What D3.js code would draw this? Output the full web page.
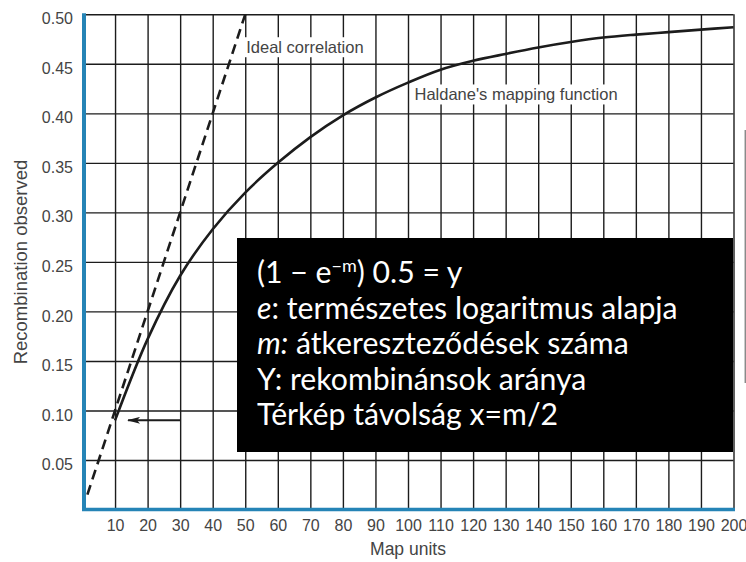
<!DOCTYPE html>
<html>
<head>
<meta charset="utf-8">
<script src="https://cdn.jsdelivr.net/npm/d3@7"></script>
<style>
  body { margin: 0; background: #fff; }
  svg { display: block; }
</style>
</head>
<body>
<script>
// data
var mapUnits = [10, 20, 30, 40, 50, 60, 70, 80, 90, 100,
  110, 120, 130, 140, 150, 160, 170, 180, 190, 200];
var recombination = [0.09, 0.172, 0.236, 0.283, 0.32, 0.35, 0.376, 0.398, 0.416, 0.431,
  0.444, 0.453, 0.46, 0.4665, 0.472, 0.4765, 0.4795, 0.482, 0.4845, 0.487];
var idealX = [1.5, 50];
var idealY = [0.015, 0.5];
var arrowX = [30, 14];
var arrowY = [0.09, 0.09];
var xTicks = [10, 20, 30, 40, 50, 60, 70, 80, 90, 100,
  110, 120, 130, 140, 150, 160, 170, 180, 190, 200];
var yTicks = [0.05, 0.10, 0.15, 0.20, 0.25, 0.30, 0.35, 0.40, 0.45, 0.50];
var boxLines = [
  [{t: "(1 − e"}, {t: "−m", sup: true}, {t: ") 0.5 = y"}],
  [{t: "e", it: true}, {t: ": természetes logaritmus alapja"}],
  [{t: "m:", it: true}, {t: " átkereszteződések száma"}],
  [{t: "Y: rekombinánsok aránya"}],
  [{t: "Térkép távolság x=m/2"}]
];

var width = 746, height = 562;
var blue = "#2584b6";
var ink = "#1c1c1c";
var labelGrey = "#444";

var svg = d3.select("body").append("svg")
  .attr("width", width)
  .attr("height", height);

var x = d3.scaleLinear().domain([0, 200]).range([82.5, 733.5]);
var y = d3.scaleLinear().domain([0, 0.5]).range([509.5, 14.3]);

// grid via axes
var xAxis = svg.append("g")
  .attr("transform", "translate(0," + y(0) + ")")
  .call(d3.axisBottom(x)
    .tickValues(xTicks)
    .tickSizeInner(-(y(0) - y(0.5)))
    .tickSizeOuter(0)
    .tickPadding(10.6)
    .tickFormat(d3.format("d")));

var yAxis = svg.append("g")
  .attr("transform", "translate(" + x(0) + ",0)")
  .call(d3.axisLeft(y)
    .tickValues(yTicks)
    .tickSizeInner(-(x(200) - x(0)))
    .tickSizeOuter(0)
    .tickPadding(9.5)
    .tickFormat(d3.format(".2f")));

[xAxis, yAxis].forEach(function(g) {
  g.select(".domain").remove();
  g.selectAll(".tick line")
    .attr("stroke", ink)
    .attr("stroke-width", 1.4);
  g.selectAll(".tick text")
    .attr("fill", labelGrey)
    .style("font-family", "'Liberation Sans', Arial, sans-serif")
    .style("font-size", "16px");
});
yAxis.selectAll(".tick text").attr("dy", "0.6em");

// blue axis lines
svg.append("line")
  .attr("x1", x(0) + 1.5).attr("x2", x(0) + 1.5)
  .attr("y1", y(0.5) - 1).attr("y2", y(0) + 1.5)
  .attr("stroke", blue).attr("stroke-width", 4);
svg.append("line")
  .attr("x1", x(0) - 0.5).attr("x2", x(200) + 1.5)
  .attr("y1", y(0)).attr("y2", y(0))
  .attr("stroke", blue).attr("stroke-width", 3.5);

// labels with white background
function label(text, px, py) {
  var g = svg.append("g");
  var t = g.append("text")
    .attr("x", px).attr("y", py)
    .attr("fill", labelGrey)
    .style("font-family", "'Liberation Sans', Arial, sans-serif")
    .style("font-size", "16.5px")
    .text(text);
  var b = t.node().getBBox();
  g.insert("rect", "text")
    .attr("x", b.x - 2).attr("y", b.y - 1)
    .attr("width", b.width + 4).attr("height", b.height + 2)
    .attr("fill", "#fff");
}
label("Ideal correlation", x(50.3), y(0.4607));
label("Haldane's mapping function", x(102), y(0.413));

// curves
var line = d3.line()
  .x(function(d) { return x(d[0]); })
  .y(function(d) { return y(d[1]); });

svg.append("path")
  .datum(d3.zip(idealX, idealY))
  .attr("d", line)
  .attr("fill", "none")
  .attr("stroke", ink)
  .attr("stroke-width", 2.6)
  .attr("stroke-dasharray", "10,6");

svg.append("path")
  .datum(d3.zip(mapUnits, recombination))
  .attr("d", line.curve(d3.curveCatmullRom))
  .attr("fill", "none")
  .attr("stroke", ink)
  .attr("stroke-width", 2.6);

// arrow
svg.append("defs").append("marker")
  .attr("id", "head")
  .attr("viewBox", "0 0 13 7")
  .attr("refX", 12).attr("refY", 3.5)
  .attr("markerWidth", 13).attr("markerHeight", 7)
  .attr("markerUnits", "userSpaceOnUse")
  .attr("orient", "auto")
  .append("path")
  .attr("d", "M0,0 L13,3.5 L0,7 L3,3.5 Z")
  .attr("fill", ink);

svg.append("path")
  .datum(d3.zip(arrowX, arrowY))
  .attr("d", line.curve(d3.curveLinear))
  .attr("fill", "none")
  .attr("stroke", ink)
  .attr("stroke-width", 2)
  .attr("marker-end", "url(#head)");

// axis titles
svg.append("text")
  .attr("x", 408).attr("y", 555)
  .attr("text-anchor", "middle")
  .attr("fill", labelGrey)
  .style("font-family", "'Liberation Sans', Arial, sans-serif")
  .style("font-size", "17.5px")
  .text("Map units");

svg.append("text")
  .attr("transform", "translate(27," + 262 + ") rotate(-90)")
  .attr("text-anchor", "middle")
  .attr("fill", labelGrey)
  .style("font-family", "'Liberation Sans', Arial, sans-serif")
  .style("font-size", "18.5px")
  .text("Recombination observed");

// stray slide edge on the right
svg.append("line")
  .attr("x1", 745.3).attr("x2", 745.3)
  .attr("y1", 130).attr("y2", 383)
  .attr("stroke", "#8a8a8a").attr("stroke-width", 1.5);

// black text box
var box = svg.append("g");
box.append("rect")
  .attr("x", 237).attr("y", 238)
  .attr("width", 496).attr("height", 214)
  .attr("fill", "#000");

var txt = box.selectAll("text")
  .data(boxLines)
  .enter()
  .append("text")
  .attr("x", 257)
  .attr("y", function(d, i) { return 283 + i * 35.6; })
  .attr("fill", "#fff")
  .style("font-family", "Lato, 'Open Sans', sans-serif")
  .style("font-size", "30.2px");

txt.selectAll("tspan")
  .data(function(d) { return d; })
  .enter()
  .append("tspan")
  .style("font-style", function(d) { return d.it ? "italic" : null; })
  .style("font-size", function(d) { return d.sup ? "18px" : null; })
  .attr("dy", function(d, i, nodes) {
    if (d.sup) return "-11";
    var prev = i > 0 ? d3.select(nodes[i - 1]).datum() : null;
    return prev && prev.sup ? "11" : null;
  })
  .text(function(d) { return d.t; });
</script>
</body>
</html>
